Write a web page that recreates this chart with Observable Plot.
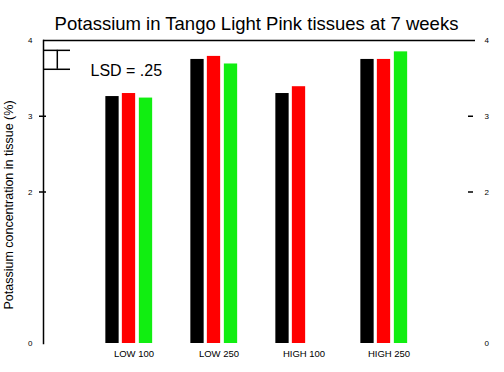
<!DOCTYPE html>
<html><head><meta charset="utf-8">
<script src="https://cdn.jsdelivr.net/npm/d3@7"></script>
<script src="https://cdn.jsdelivr.net/npm/@observablehq/plot@0.6"></script>
<style>body{margin:0;background:#fff;}</style>
</head><body><div id="chart"></div>
<script>
const title = "Potassium in Tango Light Pink tissues at 7 weeks";
const yLabel = "Potassium concentration in tissue (%)";
const groups = ["LOW 100", "LOW 250", "HIGH 100", "HIGH 250"];
const blackValues = [3.26, 3.75, 3.30, 3.75];
const redValues = [3.30, 3.79, 3.39, 3.75];
const greenValues = [3.24, 3.69, null, 3.85];
const yTicks = [0, 2, 3, 4];
const yTickMarks = [2, 3];
const lsd = 0.25;
const lsdTop = 3.87;
const lsdText = "LSD = .25";

const rows = vals => groups.map((g, i) => ({group: g, value: vals[i]})).filter(d => d.value != null);
const barW = 13.5, step = 85.2, ins = (step - barW) / 2;
const fmt = d3.format("d");

const chart = Plot.plot({
  width: 504, height: 372,
  marginTop: 40, marginBottom: 29, marginLeft: 43, marginRight: 29,
  style: {fontFamily: "'Liberation Sans', Arial, sans-serif", background: "white", color: "black"},
  x: {type: "band", domain: groups, range: [43, 469], paddingInner: 0, paddingOuter: 0.5, axis: null},
  y: {domain: [0, 4], axis: null},
  marks: [
    Plot.barY(rows(blackValues), {x: "group", y: "value", fill: "#000000", insetLeft: ins, insetRight: ins, dx: -16.5}),
    Plot.barY(rows(redValues), {x: "group", y: "value", fill: "#ff0000", insetLeft: ins, insetRight: ins}),
    Plot.barY(rows(greenValues), {x: "group", y: "value", fill: "#11ee11", insetLeft: ins, insetRight: ins, dx: 17}),
    Plot.frame({anchor: "left", strokeWidth: 1.5}),
    Plot.ruleY([4], {strokeWidth: 1.5}),
    Plot.axisY(yTickMarks, {anchor: "left", tickSize: 7, dx: 3, tickFormat: () => "", label: null, strokeWidth: 1.5}),
    Plot.axisY(yTicks, {anchor: "left", tickSize: 0, tickPadding: 11, label: null, fontSize: 8, tickFormat: fmt}),
    Plot.axisY(yTickMarks, {anchor: "right", tickSize: 5, dx: -8, tickFormat: () => "", label: null, strokeWidth: 1.5}),
    Plot.axisY(yTicks, {anchor: "right", tickSize: 0, tickPadding: 9, label: null, fontSize: 8, tickFormat: fmt}),
    Plot.axisX(groups, {anchor: "bottom", tickSize: 0, tickPadding: 7, dx: 5, fontSize: 9.5, label: null}),
    Plot.ruleY([lsdTop, lsdTop - lsd], {insetRight: 405, strokeWidth: 1.5}),
    Plot.ruleX([groups[0]], {x: d => d, y1: lsdTop, y2: lsdTop - lsd, dx: -71.7, strokeWidth: 1.5}),
    Plot.text([lsdText], {text: d => d, frameAnchor: "left", y: lsdTop - lsd, dx: 47, dy: 2, textAnchor: "start", fontSize: 16}),
    Plot.text([title], {text: d => d, frameAnchor: "top", dx: -3, dy: -24, fontSize: 18.5}),
    Plot.text([yLabel], {text: d => d, frameAnchor: "left", textAnchor: "middle", rotate: -90, dx: -35, dy: 13, fontSize: 12.5})
  ]
});
document.getElementById("chart").append(chart);
</script>
</body></html>
